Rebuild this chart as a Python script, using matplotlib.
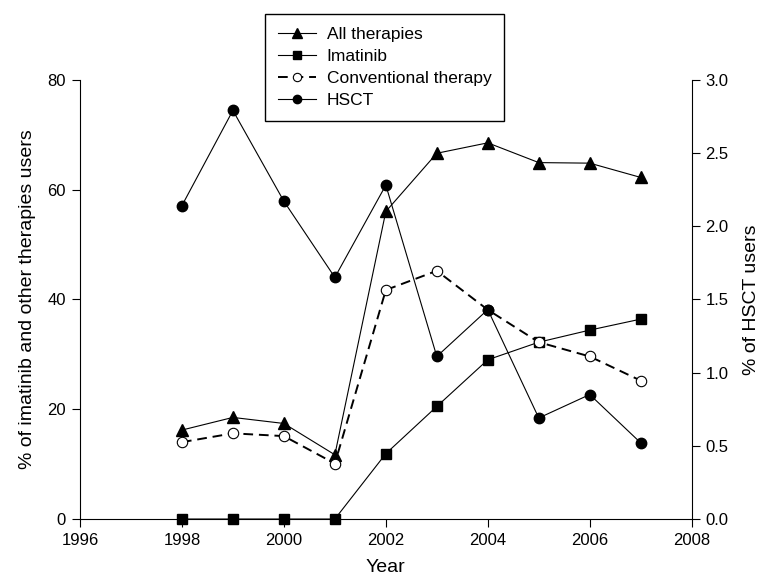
import matplotlib
matplotlib.use("Agg")
import matplotlib.pyplot as plt

plt.rcParams['font.family'] = ['Liberation Sans', 'DejaVu Sans']

years = [1998, 1999, 2000, 2001, 2002, 2003, 2004, 2005, 2006, 2007]
all_therapies = [16.2, 18.5, 17.4, 11.7, 56.0, 66.6, 68.5, 64.9, 64.8, 62.2]
imatinib = [0, 0, 0, 0, 11.9, 20.5, 29.0, 32.2, 34.4, 36.4]
conventional = [14.0, 15.6, 15.1, 10.1, 41.7, 45.2, 38.1, 32.2, 29.6, 25.2]
hsct = [2.14, 2.79, 2.17, 1.65, 2.28, 1.11, 1.43, 0.69, 0.85, 0.52]

fig = plt.figure(figsize=(7.66, 5.88), dpi=100)
ax = fig.add_axes([0.1044, 0.1173, 0.7986, 0.7472])
ax2 = ax.twinx()

l1, = ax.plot(years, all_therapies, color="black", lw=0.8, marker="^", ms=8.5, label="All therapies")
l2, = ax.plot(years, imatinib, color="black", lw=0.8, marker="s", ms=7.5, label="Imatinib", clip_on=False)
l3, = ax.plot(years, conventional, color="black", lw=1.4, ls=(0, (5, 3)), marker="o", ms=7.5,
              mfc="white", mec="black", mew=0.8, label="Conventional therapy")
l4, = ax2.plot(years, hsct, color="black", lw=0.8, marker="o", ms=7.5, label="HSCT")

ax.set_xlim(1996, 2008)
ax.set_ylim(0, 80)
ax2.set_ylim(0, 3.0)
ax.set_xticks(range(1996, 2009, 2))
ax.set_yticks(range(0, 81, 20))
ax2.set_yticks([0, 0.5, 1.0, 1.5, 2.0, 2.5, 3.0])
ax2.set_yticklabels(["0.0", "0.5", "1.0", "1.5", "2.0", "2.5", "3.0"])

for a in (ax, ax2):
    a.spines["top"].set_visible(False)
    a.tick_params(labelsize=12, direction="out", length=6, width=0.8, colors="black", pad=4)
ax.spines["right"].set_visible(False)
ax2.spines["left"].set_visible(False)
ax2.spines["bottom"].set_visible(False)

ax.set_xlabel("Year", fontsize=14, labelpad=8)
ax.set_ylabel("% of imatinib and other therapies users", fontsize=14, labelpad=8)
ax2.set_ylabel("% of HSCT users", fontsize=14, labelpad=10)

# legend sits in the top margin, above the axes
leg = ax2.legend(handles=[l1, l2, l3, l4], loc="upper left",
                 bbox_to_anchor=(265 / 766, 1 - 14 / 588), bbox_transform=fig.transFigure,
                 fontsize=12.5, frameon=True, fancybox=False, edgecolor="black", framealpha=1,
                 borderpad=0.75, labelspacing=0.4, handlelength=2.2, handletextpad=0.6,
                 borderaxespad=0, markerscale=0.8)
leg.get_frame().set_linewidth(1.0)

plt.savefig("out.png", dpi=100)
